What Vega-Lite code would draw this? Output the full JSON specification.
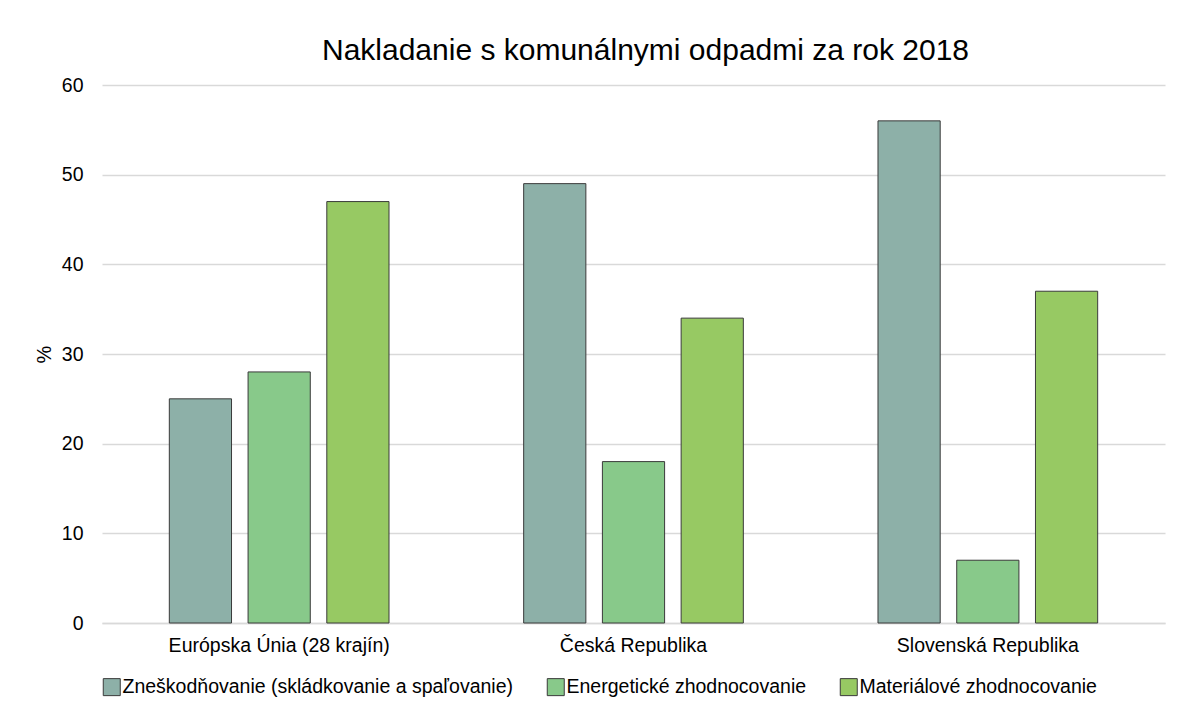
{
  "$schema": "https://vega.github.io/schema/vega-lite/v6.json",
  "autosize": {"type": "none"},
  "width": 1063,
  "height": 538,
  "padding": {"left": 102, "top": 85, "right": 14, "bottom": 79},
  "background": "white",
  "title": {
    "text": "Nakladanie s komunálnymi odpadmi za rok 2018",
    "font": "Liberation Sans",
    "fontSize": 30,
    "fontWeight": "normal",
    "color": "#000000",
    "anchor": "middle",
    "dx": 12,
    "offset": 9
  },
  "data": {
    "values": [
      {"krajina": "Európska Únia (28 krajín)", "sposob": "Zneškodňovanie (skládkovanie a spaľovanie)", "hodnota": 25},
      {"krajina": "Európska Únia (28 krajín)", "sposob": "Energetické zhodnocovanie", "hodnota": 28},
      {"krajina": "Európska Únia (28 krajín)", "sposob": "Materiálové zhodnocovanie", "hodnota": 47},
      {"krajina": "Česká Republika", "sposob": "Zneškodňovanie (skládkovanie a spaľovanie)", "hodnota": 49},
      {"krajina": "Česká Republika", "sposob": "Energetické zhodnocovanie", "hodnota": 18},
      {"krajina": "Česká Republika", "sposob": "Materiálové zhodnocovanie", "hodnota": 34},
      {"krajina": "Slovenská Republika", "sposob": "Zneškodňovanie (skládkovanie a spaľovanie)", "hodnota": 56},
      {"krajina": "Slovenská Republika", "sposob": "Energetické zhodnocovanie", "hodnota": 7},
      {"krajina": "Slovenská Republika", "sposob": "Materiálové zhodnocovanie", "hodnota": 37}
    ]
  },
  "mark": {"type": "bar", "stroke": "#3a3a3a", "strokeWidth": 1},
  "encoding": {
    "x": {
      "field": "krajina",
      "type": "nominal",
      "sort": ["Európska Únia (28 krajín)", "Česká Republika", "Slovenská Republika"],
      "scale": {"paddingInner": 0.38, "paddingOuter": 0.19},
      "axis": {
        "title": null,
        "labelAngle": 0,
        "labelFont": "Liberation Sans",
        "labelFontSize": 19.5,
        "labelColor": "#000000",
        "labelPadding": 13,
        "labelLimit": 600,
        "ticks": false,
        "domainColor": "#d9d9d9",
        "domainWidth": 1.5
      }
    },
    "xOffset": {
      "field": "sposob",
      "type": "nominal",
      "sort": ["Zneškodňovanie (skládkovanie a spaľovanie)", "Energetické zhodnocovanie", "Materiálové zhodnocovanie"],
      "scale": {"paddingInner": 0.21, "paddingOuter": 0}
    },
    "y": {
      "field": "hodnota",
      "type": "quantitative",
      "scale": {"domain": [0, 60]},
      "axis": {
        "title": "%",
        "titleFont": "Liberation Sans",
        "titleFontSize": 20,
        "titleFontWeight": "normal",
        "titleColor": "#000000",
        "titlePadding": 7,
        "values": [0, 10, 20, 30, 40, 50, 60],
        "labelFont": "Liberation Sans",
        "labelFontSize": 19.5,
        "labelColor": "#000000",
        "labelPadding": 19,
        "ticks": false,
        "domain": false,
        "gridColor": "#d9d9d9",
        "gridWidth": 1.5
      }
    },
    "color": {
      "field": "sposob",
      "type": "nominal",
      "scale": {
        "domain": ["Zneškodňovanie (skládkovanie a spaľovanie)", "Energetické zhodnocovanie", "Materiálové zhodnocovanie"],
        "range": ["#8DB0A8", "#88C98A", "#97C963"]
      },
      "legend": {
        "title": null,
        "orient": "bottom",
        "direction": "horizontal",
        "offset": 22,
        "symbolType": "square",
        "symbolSize": 289,
        "symbolStrokeColor": "#3a3a3a",
        "symbolStrokeWidth": 1,
        "labelFont": "Liberation Sans",
        "labelFontSize": 19.5,
        "labelColor": "#000000",
        "labelOffset": 1,
        "columnPadding": 31,
        "labelLimit": 600
      }
    }
  },
  "config": {
    "view": {"stroke": null}
  }
}
